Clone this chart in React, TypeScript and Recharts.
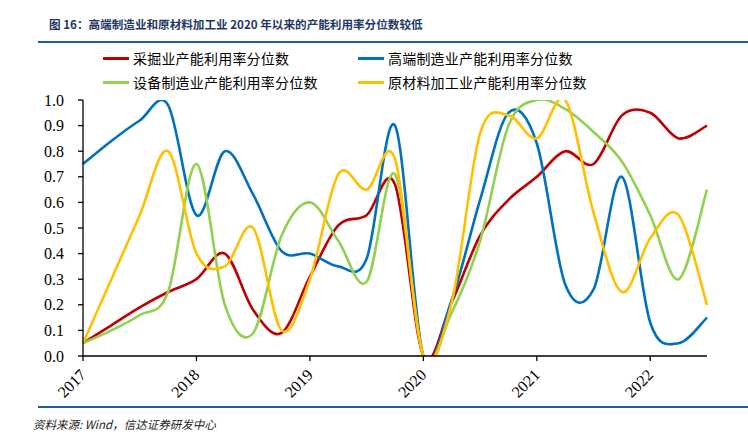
import React from 'react';
import { LineChart, Line, XAxis, YAxis } from 'recharts';

// quarterly observations, 2017Q1 .. 2022Q3
const quarters = [
  '2017Q1', '2017Q2', '2017Q3', '2017Q4',
  '2018Q1', '2018Q2', '2018Q3', '2018Q4',
  '2019Q1', '2019Q2', '2019Q3', '2019Q4',
  '2020Q1', '2020Q2', '2020Q3', '2020Q4',
  '2021Q1', '2021Q2', '2021Q3', '2021Q4',
  '2022Q1', '2022Q2', '2022Q3',
];

const mining = [0.05, 0.12, 0.19, 0.25, 0.3, 0.4, 0.18, 0.09, 0.31, 0.51, 0.55, 0.67, 0, 0.21, 0.47, 0.61, 0.7, 0.8, 0.75, 0.94, 0.95, 0.85, 0.9];
const highEnd = [0.75, 0.84, 0.92, 0.98, 0.55, 0.8, 0.63, 0.41, 0.4, 0.35, 0.38, 0.9, 0, 0.22, 0.61, 0.95, 0.83, 0.28, 0.26, 0.7, 0.13, 0.05, 0.15];
const equipment = [0.05, 0.1, 0.16, 0.25, 0.75, 0.2, 0.09, 0.47, 0.6, 0.45, 0.29, 0.71, 0, 0.17, 0.45, 0.9, 1.0, 0.965, 0.875, 0.76, 0.55, 0.3, 0.65];
const rawMaterial = [0.05, 0.3, 0.55, 0.8, 0.4, 0.35, 0.5, 0.1, 0.3, 0.71, 0.65, 0.77, 0, 0.21, 0.87, 0.94, 0.85, 1.0, 0.56, 0.25, 0.46, 0.55, 0.2];

const yTicks = [0, 0.1, 0.2, 0.3, 0.4, 0.5, 0.6, 0.7, 0.8, 0.9, 1.0];

const series = [
  { key: 'mining', name: '采掘业产能利用率分位数', color: '#C00000', values: mining },
  { key: 'highEnd', name: '高端制造业产能利用率分位数', color: '#0070C0', values: highEnd },
  { key: 'equipment', name: '设备制造业产能利用率分位数', color: '#92D050', values: equipment },
  { key: 'rawMaterial', name: '原材料加工业产能利用率分位数', color: '#FFC000', values: rawMaterial },
];

const data = quarters.map((q, i) => {
  const row: Record<string, string | number> = { q };
  series.forEach((s) => {
    row[s.key] = s.values[i];
  });
  return row;
});

// Excel-style smoothed line (Catmull-Rom as cubic beziers)
const excelSmooth = (context: any) => {
  let xs: number[] = [];
  let ys: number[] = [];
  return {
    areaStart() {},
    areaEnd() {},
    lineStart() {
      xs = [];
      ys = [];
    },
    lineEnd() {
      const n = xs.length;
      if (!n) return;
      context.moveTo(xs[0], ys[0]);
      for (let i = 0; i < n - 1; i++) {
        const a = Math.max(i - 1, 0);
        const d = Math.min(i + 2, n - 1);
        context.bezierCurveTo(
          xs[i] + (xs[i + 1] - xs[a]) / 6,
          ys[i] + (ys[i + 1] - ys[a]) / 6,
          xs[i + 1] - (xs[d] - xs[i]) / 6,
          ys[i + 1] - (ys[d] - ys[i]) / 6,
          xs[i + 1],
          ys[i + 1],
        );
      }
    },
    point(x: number, y: number) {
      xs.push(+x);
      ys.push(+y);
    },
  };
};

const serif = '"Liberation Serif", "Times New Roman", serif';
const cjk = '"Noto Sans CJK SC", "Noto Sans", sans-serif';

const YTick = ({ x, y, payload }: any) => (
  <text x={x} y={y} dy="0.35em" textAnchor="end" fill="#000" style={{ fontFamily: serif, fontSize: 16 }}>
    {Number(payload.value).toFixed(1)}
  </text>
);

const XTick = ({ x, y, payload }: any) => (
  <g transform={`translate(${x},${y + 9})`}>
    <text
      x={0}
      y={0}
      dy="0.35em"
      textAnchor="end"
      transform="rotate(-45)"
      fill="#000"
      style={{ fontFamily: serif, fontSize: 16 }}
    >
      {String(payload.value).slice(0, 4)}
    </text>
  </g>
);

function Legend() {
  const cols = [103, 358];
  return (
    <>
      {series.map((s, i) => (
        <div
          key={s.key}
          style={{
            position: 'absolute',
            left: cols[i % 2],
            top: i < 2 ? 48 : 72,
            height: 20,
            display: 'flex',
            alignItems: 'center',
            fontFamily: cjk,
            fontSize: 14,
            color: '#000',
            whiteSpace: 'nowrap',
          }}
        >
          <span style={{ display: 'inline-block', width: 26, height: 3, background: s.color, marginRight: 4 }} />
          <span style={{ letterSpacing: 0.2 }}>{s.name}</span>
        </div>
      ))}
    </>
  );
}

export default function App() {
  return (
    <div
      style={{
        position: 'absolute',
        left: 0,
        top: 0,
        width: 748,
        height: 438,
        background: '#fff',
        overflow: 'hidden',
      }}
    >
      {/* TITLE */}
      <div
        style={{
          position: 'absolute',
          left: 49,
          top: 16,
          fontFamily: cjk,
          fontWeight: 700,
          fontSize: 11.6,
          color: '#1F3864',
          whiteSpace: 'nowrap',
        }}
      >
        图 16：高端制造业和原材料加工业 2020 年以来的产能利用率分位数较低
      </div>
      <div style={{ position: 'absolute', left: 38, top: 41, width: 710, height: 1.5, background: '#1F5C9E' }} />

      <Legend />

      {/* CHART */}
      <div style={{ position: 'absolute', left: 0, top: 0 }}>
        <LineChart width={748} height={438} data={data} margin={{ top: 100, right: 41, bottom: 22, left: 0 }}>
          <XAxis
            dataKey="q"
            interval={3}
            axisLine={{ stroke: '#000', strokeWidth: 1.3 }}
            tickLine={{ stroke: '#000', strokeWidth: 1.3 }}
            tickSize={5}
            tickMargin={2}
            height={60}
            tick={<XTick />}
          />
          <YAxis
            type="number"
            domain={[0, 1]}
            ticks={yTicks}
            allowDataOverflow
            interval={0}
            axisLine={{ stroke: '#000', strokeWidth: 1.3 }}
            tickLine={{ stroke: '#000', strokeWidth: 1.3 }}
            tickSize={5}
            tickMargin={14}
            width={83}
            tick={<YTick />}
          />
          {series.map((s) => (
            <Line
              key={s.key}
              dataKey={s.key}
              name={s.name}
              type={excelSmooth as any}
              stroke={s.color}
              strokeWidth={2.6}
              dot={false}
              activeDot={false}
              isAnimationActive={false}
            />
          ))}
        </LineChart>
      </div>

      {/* SOURCE */}
      <div style={{ position: 'absolute', left: 38, top: 406, width: 710, height: 1.5, background: '#1F5C9E' }} />
      <div
        style={{
          position: 'absolute',
          left: 33,
          top: 416,
          fontFamily: cjk,
          fontStyle: 'italic',
          fontSize: 11.5,
          color: '#222',
          whiteSpace: 'nowrap',
        }}
      >
        资料来源: Wind，信达证券研发中心
      </div>
    </div>
  );
}
